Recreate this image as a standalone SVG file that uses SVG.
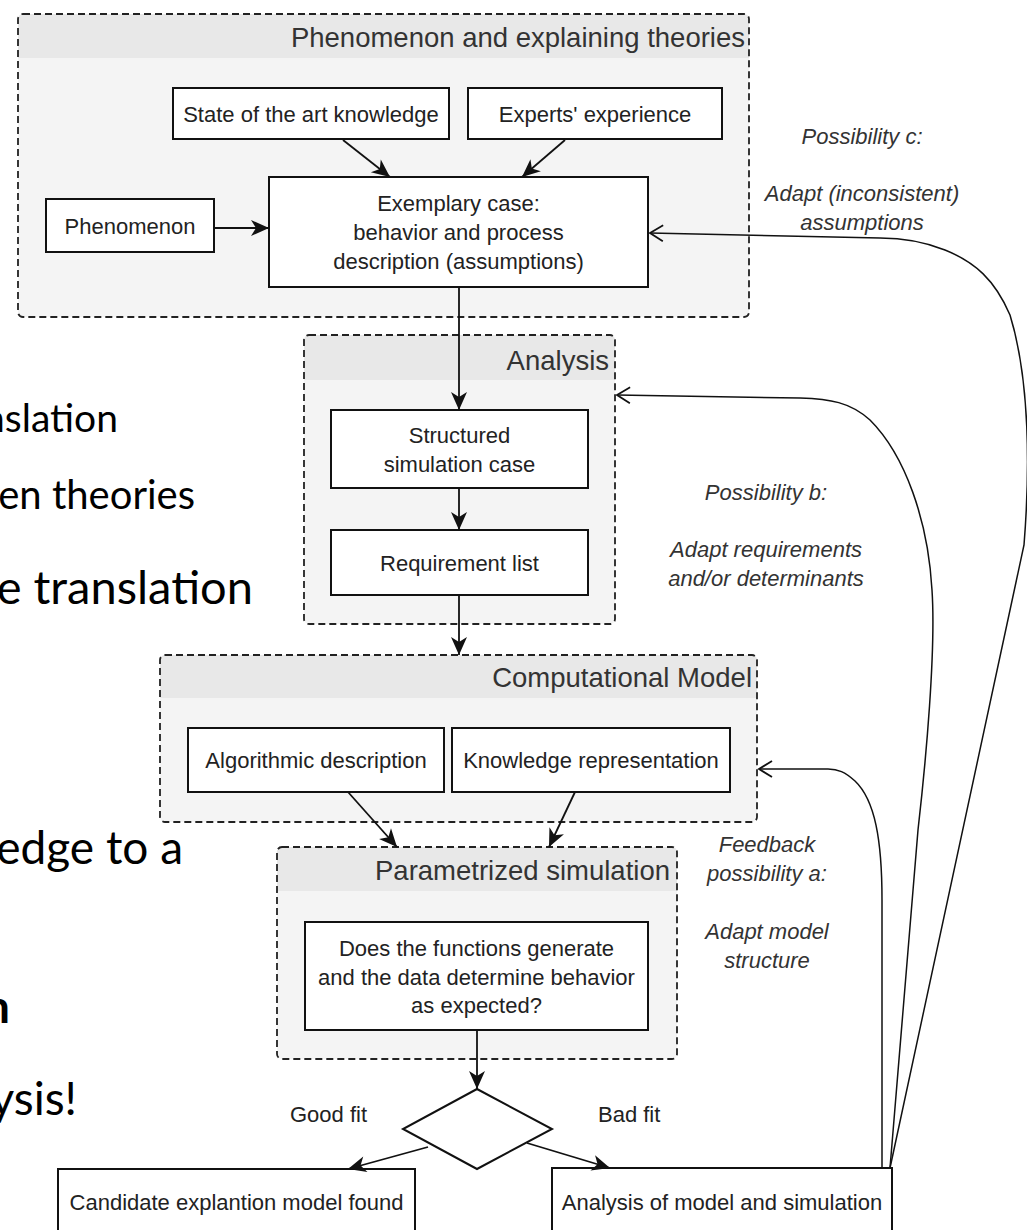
<svg xmlns="http://www.w3.org/2000/svg" width="1027" height="1230" viewBox="0 0 1027 1230">
<defs>
<style>
.bg{fill:#f4f4f4;stroke:none}
.hd{fill:#e8e8e8;stroke:none}
.dash{fill:none;stroke:#222;stroke-width:1.8;stroke-dasharray:7 4}
.box{fill:#fff;stroke:#111;stroke-width:2}
.t{font-family:"Liberation Sans",Arial,sans-serif;font-size:22px;fill:#222;text-anchor:middle}
.ttl{font-family:"Liberation Sans",Arial,sans-serif;font-size:27.5px;fill:#333;text-anchor:end}
.it{font-family:"Liberation Sans",Arial,sans-serif;font-size:22px;font-style:italic;fill:#333;text-anchor:middle}
.lbl{font-family:"Liberation Sans",Arial,sans-serif;font-size:22px;fill:#222}
.sl{font-family:Lato,"Open Sans",sans-serif;fill:#000;text-anchor:end}
.c{fill:none;stroke:#111;stroke-width:1.8}
.fb{fill:none;stroke:#111;stroke-width:1.5}
</style>
<marker id="arr" markerUnits="userSpaceOnUse" markerWidth="20" markerHeight="18" refX="18" refY="8" orient="auto" overflow="visible"><path d="M0,0 L18,8 L0,16 L5,8 Z" fill="#111"/></marker>
<marker id="open" markerUnits="userSpaceOnUse" markerWidth="16" markerHeight="18" refX="13" refY="8" orient="auto" overflow="visible"><path d="M0,0 L13,8 L0,16" fill="none" stroke="#111" stroke-width="1.8"/></marker>
</defs>
<rect width="1027" height="1230" fill="#fff"/>

<g id="slide-text">
<text class="sl" x="118" y="432" font-size="39">nslation</text>
<text class="sl" x="195" y="509" font-size="40">en theories</text>
<text class="sl" x="253" y="604" font-size="47">e translation</text>
<text class="sl" x="183" y="864" font-size="46">edge to a</text>
<text class="sl" x="10" y="1023" font-size="46" font-weight="bold">n</text>
<text class="sl" x="77" y="1115" font-size="46">ysis!</text>
</g>

<g id="group-phenomenon">
<rect class="bg" x="18" y="14" width="731" height="303" rx="5"/>
<path class="hd" d="M18,58 V19 A5,5 0 0 1 23,14 H744 A5,5 0 0 1 749,19 V58 Z"/>
<rect class="dash" x="18" y="14" width="731" height="303" rx="5"/>
<text class="ttl" x="745" y="47">Phenomenon and explaining theories</text>
</g>
<g id="node-state"><rect class="box" x="173" y="88" width="276" height="51"/><text class="t" x="311" y="122">State of the art knowledge</text></g>
<g id="node-experts"><rect class="box" x="468" y="88" width="254" height="51"/><text class="t" x="595" y="122">Experts' experience</text></g>
<g id="node-phenomenon"><rect class="box" x="46" y="199" width="168" height="53"/><text class="t" x="130" y="234">Phenomenon</text></g>
<g id="node-exemplary"><rect class="box" x="269" y="177" width="379" height="110"/>
<text class="t" x="458.5" y="211">Exemplary case:</text>
<text class="t" x="458.5" y="240">behavior and process</text>
<text class="t" x="458.5" y="269">description (assumptions)</text></g>

<g id="group-analysis">
<rect class="bg" x="304" y="335" width="311" height="289" rx="5"/>
<path class="hd" d="M304,380 V340 A5,5 0 0 1 309,335 H610 A5,5 0 0 1 615,340 V380 Z"/>
<rect class="dash" x="304" y="335" width="311" height="289" rx="5"/>
<text class="ttl" x="609" y="370">Analysis</text>
</g>
<g id="node-structured"><rect class="box" x="331" y="410" width="257" height="78"/>
<text class="t" x="459.5" y="442.5">Structured</text>
<text class="t" x="459.5" y="471.5">simulation case</text></g>
<g id="node-requirement"><rect class="box" x="331" y="530" width="257" height="65"/><text class="t" x="459.5" y="570.5">Requirement list</text></g>

<g id="group-computational">
<rect class="bg" x="160" y="655" width="597" height="167" rx="5"/>
<path class="hd" d="M160,698 V660 A5,5 0 0 1 165,655 H752 A5,5 0 0 1 757,660 V698 Z"/>
<rect class="dash" x="160" y="655" width="597" height="167" rx="5"/>
<text class="ttl" x="752" y="687">Computational Model</text>
</g>
<g id="node-algorithmic"><rect class="box" x="188" y="728" width="256" height="64"/><text class="t" x="316" y="768">Algorithmic description</text></g>
<g id="node-knowledge"><rect class="box" x="452" y="728" width="278" height="64"/><text class="t" x="591" y="768">Knowledge representation</text></g>

<g id="group-parametrized">
<rect class="bg" x="277" y="847" width="400" height="212" rx="5"/>
<path class="hd" d="M277,891 V852 A5,5 0 0 1 282,847 H672 A5,5 0 0 1 677,852 V891 Z"/>
<rect class="dash" x="277" y="847" width="400" height="212" rx="5"/>
<text class="ttl" x="670" y="880">Parametrized simulation</text>
</g>
<g id="node-check"><rect class="box" x="305" y="922" width="343" height="108"/>
<text class="t" x="476.5" y="956">Does the functions generate</text>
<text class="t" x="476.5" y="984.5">and the data determine behavior</text>
<text class="t" x="476.5" y="1013">as expected?</text></g>

<g id="node-decision"><path class="box" d="M477,1089 L552,1129 L477,1169 L403,1129 Z"/></g>
<g id="node-candidate"><rect class="box" x="58" y="1169" width="357" height="66"/><text class="t" x="236.5" y="1210">Candidate explantion model found</text></g>
<g id="node-analysis-model"><rect class="box" x="552" y="1168" width="340" height="67"/><text class="t" x="722" y="1210">Analysis of model and simulation</text></g>

<g id="labels">
<text class="it" x="862" y="144">Possibility c:</text>
<text class="it" x="862" y="201">Adapt (inconsistent)</text>
<text class="it" x="862" y="230">assumptions</text>
<text class="it" x="766" y="500">Possibility b:</text>
<text class="it" x="766" y="557">Adapt requirements</text>
<text class="it" x="766" y="586">and/or determinants</text>
<text class="it" x="767" y="852">Feedback</text>
<text class="it" x="767" y="881">possibility a:</text>
<text class="it" x="767" y="939">Adapt model</text>
<text class="it" x="767" y="968">structure</text>
<text class="lbl" x="290" y="1122">Good fit</text>
<text class="lbl" x="598" y="1122">Bad fit</text>
</g>

<g id="connectors">
<path class="c" d="M214,228 L269,228" marker-end="url(#arr)"/>
<path class="c" d="M343,140 L390,177" marker-end="url(#arr)"/>
<path class="c" d="M565,140 L522,177" marker-end="url(#arr)"/>
<path class="c" d="M459,287 L459,410" marker-end="url(#arr)"/>
<path class="c" d="M459,488 L459,530" marker-end="url(#arr)"/>
<path class="c" d="M459,595 L459,655" marker-end="url(#arr)"/>
<path class="c" d="M348,792 L397,847" marker-end="url(#arr)"/>
<path class="c" d="M575,792 L549,847" marker-end="url(#arr)"/>
<path class="c" d="M477,1030 L477,1089" marker-end="url(#arr)"/>
<path class="c" d="M428,1147 L348,1169" marker-end="url(#arr)"/>
<path class="c" d="M527,1143 L610,1168" marker-end="url(#arr)"/>
<path class="fb" d="M882,1168 L882,900 C882,840 875,800 855,781 C845,772 838,769 828,769 L759,769" marker-end="url(#open)"/>
<path class="fb" d="M890,1168 L918,830 C926,760 936,650 932,590 C928,520 905,455 870,420 C850,402 830,399 800,398 L617,395" marker-end="url(#open)"/>
<path class="fb" d="M890,1168 L1024,545 C1030,470 1030,380 1010,315 C995,280 975,262 945,250 C925,242 905,238 880,238 L650,233" marker-end="url(#open)"/>
</g>
</svg>
